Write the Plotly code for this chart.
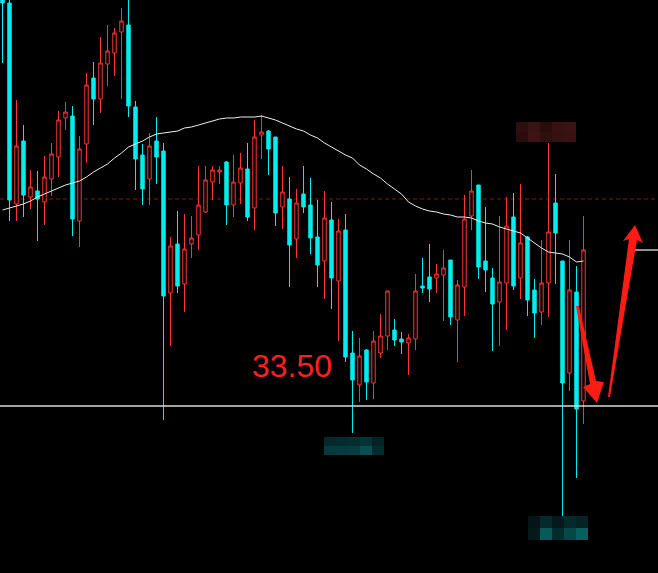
import plotly.graph_objects as go

# ---------------- data (prices) ----------------
idx = list(range(84))

opens = [37.86, 37.53, 35.52, 36.15, 35.59, 35.65, 35.54, 35.77, 35.99, 36.38,
         36.40, 35.35, 36.12, 36.78, 36.57, 36.92, 37.03, 37.24, 37.31, 36.49,
         36.01, 35.77, 36.15, 36.05, 34.63, 35.12, 34.72, 35.12, 35.21, 35.44,
         35.74, 35.84, 35.94, 35.51, 35.73, 35.87, 35.48, 36.21, 36.25, 36.19,
         35.49, 35.57, 35.17, 35.62, 35.51, 35.19, 34.95, 35.36, 34.75, 35.26,
         34.03, 33.71, 34.06, 33.73, 34.03, 34.20, 34.26, 34.17, 34.13, 34.17,
         34.70, 34.79, 34.78, 34.81, 34.96, 34.36, 34.69, 35.40, 35.71, 34.95,
         34.78, 34.54, 34.73, 35.39, 34.78, 35.19, 34.66, 34.44, 34.73, 35.53,
         34.95, 33.83, 34.64, 33.55]

highs = [37.96, 37.61, 36.56, 36.31, 35.86, 35.85, 36.00, 36.13, 36.45, 36.54,
         36.50, 36.20, 36.83, 36.94, 37.19, 37.31, 37.28, 37.48, 37.59, 36.55,
         36.12, 36.23, 36.39, 36.13, 35.19, 35.45, 35.42, 35.40, 35.90, 35.90,
         35.90, 35.90, 35.95, 36.01, 36.03, 36.13, 36.36, 36.41, 36.26, 36.19,
         35.90, 35.79, 35.67, 35.90, 35.78, 35.56, 35.65, 35.54, 35.37, 35.42,
         34.25, 34.18, 34.07, 34.25, 34.42, 34.65, 34.37, 34.24, 34.22, 34.82,
         34.98, 35.12, 34.92, 35.06, 34.96, 34.76, 35.61, 35.86, 35.71, 35.49,
         34.88, 35.40, 35.59, 35.63, 35.72, 35.20, 34.77, 35.16, 36.13, 35.82,
         34.95, 35.16, 34.90, 35.40]

lows = [36.93, 35.35, 35.35, 35.39, 35.47, 35.15, 35.31, 35.60, 35.79, 36.26,
        35.20, 35.09, 35.93, 36.31, 36.43, 36.70, 36.80, 36.57, 36.39, 35.66,
        35.51, 35.51, 35.72, 33.36, 34.10, 34.63, 34.44, 34.98, 35.06, 35.43,
        35.56, 35.72, 35.31, 35.39, 35.52, 35.35, 35.26, 35.97, 35.81, 35.30,
        35.27, 34.69, 34.98, 35.43, 35.02, 34.69, 34.57, 34.47, 34.15, 33.94,
        33.23, 33.54, 33.56, 33.57, 33.98, 34.06, 34.10, 34.02, 33.81, 34.06,
        34.63, 34.54, 34.63, 34.35, 34.31, 33.94, 34.40, 35.26, 34.77, 34.64,
        34.05, 34.10, 34.26, 34.66, 34.57, 34.40, 34.18, 34.31, 34.39, 34.72,
        32.38, 33.65, 32.78, 33.32]

closes = [37.53, 35.56, 36.10, 35.61, 35.69, 35.57, 35.79, 36.02, 36.36, 36.44,
          35.37, 36.07, 36.71, 36.57, 36.93, 37.05, 37.23, 37.35, 36.50, 35.97,
          35.67, 36.10, 35.99, 34.60, 35.10, 34.70, 35.07, 35.18, 35.51, 35.76,
          35.86, 35.86, 35.51, 35.74, 35.88, 35.39, 36.19, 36.24, 36.07, 35.43,
          35.64, 35.11, 35.53, 35.49, 35.18, 34.91, 35.38, 34.78, 35.25, 33.99,
          33.76, 34.00, 33.74, 34.15, 34.20, 34.65, 34.16, 34.14, 34.18, 34.65,
          34.68, 34.67, 34.82, 34.88, 34.39, 34.71, 35.37, 35.65, 34.89, 34.86,
          34.52, 34.74, 35.30, 34.70, 35.13, 34.56, 34.43, 34.73, 35.24, 35.23,
          33.73, 34.66, 33.47, 35.06]

ma = [35.46, 35.48, 35.50, 35.52, 35.55, 35.59, 35.62, 35.65, 35.68, 35.71,
      35.73, 35.75, 35.79, 35.84, 35.88, 35.92, 35.98, 36.03, 36.09, 36.12,
      36.15, 36.19, 36.22, 36.23, 36.24, 36.25, 36.28, 36.29, 36.31, 36.33,
      36.35, 36.37, 36.38, 36.38, 36.39, 36.39, 36.39, 36.40, 36.38, 36.36,
      36.33, 36.30, 36.27, 36.25, 36.21, 36.18, 36.13, 36.09, 36.05, 36.01,
      35.98, 35.91, 35.87, 35.82, 35.78, 35.72, 35.67, 35.62, 35.54, 35.50,
      35.47, 35.45, 35.44, 35.42, 35.41, 35.39, 35.39, 35.38, 35.35, 35.33,
      35.32, 35.29, 35.27, 35.25, 35.23, 35.18, 35.13, 35.08, 35.04, 35.03,
      35.02, 34.99, 34.94, 34.95]

support_level = 33.50
dashed_level = 35.57
target_level = 35.06
label_text = "33.50"

# ---------------- figure ----------------
W, H = 658, 573
RED = "#ff3434"
CYAN = "#00eeee"


def px(x, y):
    return x / W, 1 - y / H


def path(points):
    s = ""
    for k, (x, y) in enumerate(points):
        a, b = px(x, y)
        s += ("M" if k == 0 else "L") + f"{a:.5f},{b:.5f} "
    return s + "Z"


fig = go.Figure()
fig.add_trace(go.Candlestick(
    x=idx, open=opens, high=highs, low=lows, close=closes,
    increasing=dict(line=dict(color=RED, width=1), fillcolor="#000000"),
    decreasing=dict(line=dict(color=CYAN, width=1), fillcolor=CYAN),
    whiskerwidth=0, showlegend=False, hoverinfo="skip",
))
fig.add_trace(go.Scatter(
    x=idx, y=ma, mode="lines", line=dict(color="#f0f0f0", width=1),
    showlegend=False, hoverinfo="skip",
))

shapes = []
shapes.append(dict(type="line", xref="paper", yref="y", x0=0, x1=1,
                   y0=dashed_level, y1=dashed_level,
                   line=dict(color="#8e1212", width=1, dash="4px,3px"), layer="below"))
shapes.append(dict(type="line", xref="paper", yref="y", x0=0, x1=1,
                   y0=support_level, y1=support_level,
                   line=dict(color="#d8d8d8", width=1.3)))
shapes.append(dict(type="line", xref="paper", yref="y", x0=635 / W, x1=1,
                   y0=target_level, y1=target_level,
                   line=dict(color="#e0e0e0", width=1.3)))


def mosaic(x0, y0, tw, th, rows):
    for r, row in enumerate(rows):
        for c, col in enumerate(row):
            a0, b1 = px(x0 + c * tw, y0 + r * th)
            a1, b0 = px(x0 + (c + 1) * tw, y0 + (r + 1) * th)
            shapes.append(dict(type="rect", xref="paper", yref="paper",
                               x0=a0, x1=a1, y0=b0, y1=b1,
                               fillcolor=col, line=dict(width=0)))


mosaic(516, 122, 12, 10, [
    ["#2e0f10", "#3a1414", "#2a0c0c", "#361212", "#3b1313"],
    ["#2a0c0e", "#3d1313", "#2f0f10", "#351111", "#3b1212"],
])
mosaic(324, 437, 12, 9, [
    ["#03292b", "#042b2d", "#052e30", "#063436", "#032324"],
    ["#053b3d", "#063c3e", "#063d3f", "#075050", "#032c2e"],
])
mosaic(528, 516, 12, 12, [
    ["#031519", "#042a2b", "#03191b", "#042a2c", "#042424"],
    ["#031a1d", "#065a5a", "#042c2c", "#054848", "#066060"],
])

shapes.append(dict(type="path", xref="paper", yref="paper", layer="above",
                   path=path([(576, 306), (579, 306), (596, 381), (604, 382),
                              (597, 403), (583, 387), (590, 384)]),
                   fillcolor="#ff1c14", line=dict(width=0)))
shapes.append(dict(type="path", xref="paper", yref="paper", layer="above",
                   path=path([(608, 397), (610, 397), (637, 240), (643, 243),
                              (635, 225), (623, 241), (629, 239)]),
                   fillcolor="#ff1c14", line=dict(width=0)))

fig.update_layout(
    width=W, height=H,
    margin=dict(l=0, r=0, t=0, b=0),
    paper_bgcolor="#000000", plot_bgcolor="#000000",
    xaxis=dict(range=[-2.5 / 7, (W - 2.5) / 7], visible=False,
               rangeslider=dict(visible=False), fixedrange=True),
    yaxis=dict(range=[31.83, 37.56], visible=False, fixedrange=True),
    shapes=shapes,
    annotations=[dict(text=label_text, xref="paper", yref="paper",
                      x=292 / W, y=1 - 366 / H, showarrow=False,
                      xanchor="center", yanchor="middle",
                      font=dict(family="Liberation Sans", size=32, color="#ff2020"))],
    showlegend=False,
)

fig.write_html(
    "out.html",
    config={"displayModeBar": False, "staticPlot": True},
    post_script="document.body.style.margin='0';document.body.style.background='#000';",
)
